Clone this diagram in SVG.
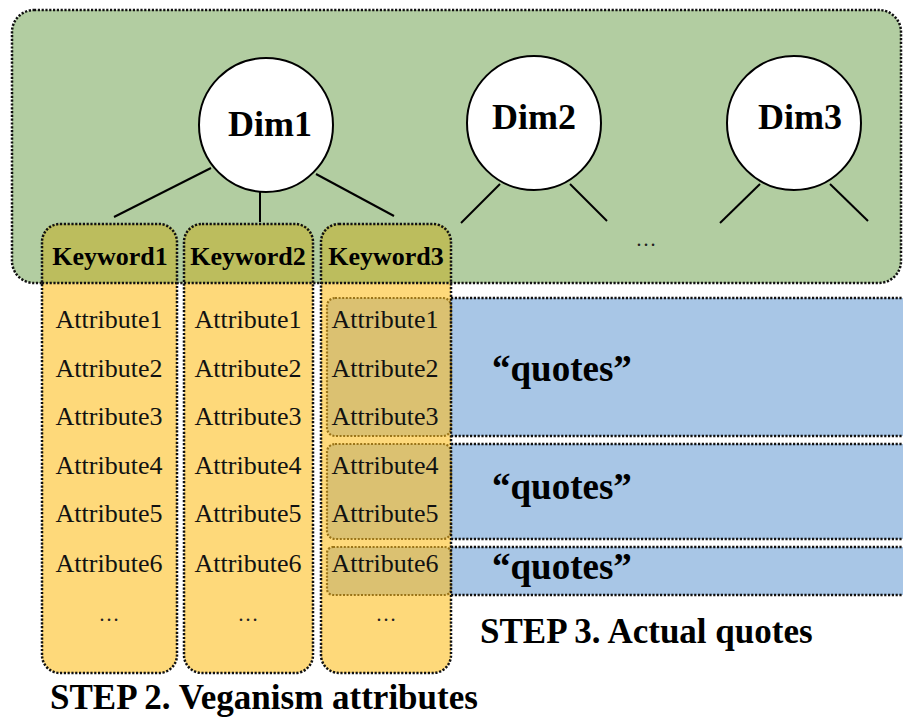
<svg xmlns="http://www.w3.org/2000/svg" width="903" height="726" viewBox="0 0 903 726">
  <style>
    .dot { stroke: #111; stroke-width: 2.5; stroke-dasharray: 2.2 1.6; fill: none; }
    .dotbrown { stroke: #9a7418; stroke-width: 2.2; stroke-dasharray: 2 1.6; fill: none; }
    .dim { font-family: "Liberation Serif", "Times New Roman", serif; font-weight: bold; font-size: 36px; text-anchor: middle; fill: #000; }
    .kw { font-family: "Liberation Serif", "Times New Roman", serif; font-weight: bold; font-size: 26px; text-anchor: middle; fill: #000; }
    .attr { font-family: "Liberation Serif", "Times New Roman", serif; font-size: 26px; text-anchor: middle; fill: #111; }
    .ell { font-family: "Liberation Serif", "Times New Roman", serif; font-size: 21px; text-anchor: middle; fill: #222; }
    .quote { font-family: "Liberation Serif", "Times New Roman", serif; font-weight: bold; font-size: 37px; fill: #000; }
    .step { font-family: "Liberation Serif", "Times New Roman", serif; font-weight: bold; font-size: 35px; fill: #000; }
    .circle { fill: #fff; stroke: #000; stroke-width: 2; }
    .edge { stroke: #000; stroke-width: 2; fill: none; }
    .green { fill: #b2cda1; }
    .yellow { fill: #fed97a; }
    .olive { fill: #bcbd5d; }
    .blue { fill: #a8c6e6; }
    .tan { fill: #dbc171; }
  </style>

  <!-- dimension panel -->
  <g id="dimension-panel">
    <rect x="12" y="10" width="889" height="273" rx="22" class="green"/>
    <rect x="12" y="10" width="889" height="273" rx="22" class="dot"/>
    <text x="646" y="246" class="ell">…</text>
  </g>

  <!-- keyword columns -->
  <g id="keyword1">
    <rect x="42" y="224" width="135" height="449" rx="18" class="yellow"/>
    <path d="M42,283 V242 Q42,224 60,224 H159 Q177,224 177,242 V283 Z" class="olive"/>
    <rect x="42" y="224" width="135" height="449" rx="18" class="dot"/>
    <line x1="42" y1="283" x2="177" y2="283" class="dot"/>
    <text x="110" y="265" class="kw">Keyword1</text>
    <text x="109" y="328" class="attr">Attribute1</text>
    <text x="109" y="377" class="attr">Attribute2</text>
    <text x="109" y="425" class="attr">Attribute3</text>
    <text x="109" y="474" class="attr">Attribute4</text>
    <text x="109" y="522" class="attr">Attribute5</text>
    <text x="109" y="572" class="attr">Attribute6</text>
    <text x="109" y="621" class="ell">…</text>
  </g>

  <g id="keyword2">
    <rect x="184" y="224" width="129" height="449" rx="18" class="yellow"/>
    <path d="M184,283 V242 Q184,224 202,224 H295 Q313,224 313,242 V283 Z" class="olive"/>
    <rect x="184" y="224" width="129" height="449" rx="18" class="dot"/>
    <line x1="184" y1="283" x2="313" y2="283" class="dot"/>
    <text x="248" y="265" class="kw">Keyword2</text>
    <text x="248" y="328" class="attr">Attribute1</text>
    <text x="248" y="377" class="attr">Attribute2</text>
    <text x="248" y="425" class="attr">Attribute3</text>
    <text x="248" y="474" class="attr">Attribute4</text>
    <text x="248" y="522" class="attr">Attribute5</text>
    <text x="248" y="572" class="attr">Attribute6</text>
    <text x="248" y="621" class="ell">…</text>
  </g>

  <!-- quote bands -->
  <g id="quotes">
    <rect x="451" y="298" width="460" height="138" class="blue"/>
    <line x1="451" y1="298" x2="903" y2="298" class="dot"/>
    <line x1="451" y1="436" x2="903" y2="436" class="dot"/>
    <rect x="451" y="444" width="460" height="95" class="blue"/>
    <line x1="451" y1="444" x2="903" y2="444" class="dot"/>
    <line x1="451" y1="539" x2="903" y2="539" class="dot"/>
    <rect x="451" y="547" width="460" height="48" class="blue"/>
    <line x1="451" y1="547" x2="903" y2="547" class="dot"/>
    <line x1="451" y1="595" x2="903" y2="595" class="dot"/>
    <text x="492" y="381" class="quote">“quotes”</text>
    <text x="492" y="499" class="quote">“quotes”</text>
    <text x="492" y="579" class="quote">“quotes”</text>
  </g>

  <g id="keyword3">
    <rect x="321" y="224" width="130" height="449" rx="18" class="yellow"/>
    <path d="M321,283 V242 Q321,224 339,224 H433 Q451,224 451,242 V283 Z" class="olive"/>
    <rect x="327" y="298" width="124" height="138" rx="8" class="tan"/>
    <rect x="327" y="298" width="124" height="138" rx="8" class="dotbrown"/>
    <rect x="327" y="444" width="124" height="95" rx="8" class="tan"/>
    <rect x="327" y="444" width="124" height="95" rx="8" class="dotbrown"/>
    <rect x="327" y="547" width="124" height="48" rx="6" class="tan"/>
    <rect x="327" y="547" width="124" height="48" rx="6" class="dotbrown"/>
    <rect x="321" y="224" width="130" height="449" rx="18" class="dot"/>
    <line x1="321" y1="283" x2="451" y2="283" class="dot"/>
    <text x="386" y="265" class="kw">Keyword3</text>
    <text x="385" y="328" class="attr">Attribute1</text>
    <text x="385" y="377" class="attr">Attribute2</text>
    <text x="385" y="425" class="attr">Attribute3</text>
    <text x="385" y="474" class="attr">Attribute4</text>
    <text x="385" y="522" class="attr">Attribute5</text>
    <text x="385" y="572" class="attr">Attribute6</text>
    <text x="386" y="621" class="ell">…</text>
  </g>

  <!-- tree edges -->
  <g id="connectors">
    <line x1="211" y1="168" x2="114" y2="217" class="edge"/>
    <line x1="260" y1="192" x2="260" y2="222" class="edge"/>
    <line x1="316" y1="174" x2="394" y2="216" class="edge"/>
    <line x1="500" y1="184" x2="461" y2="223" class="edge"/>
    <line x1="570" y1="184" x2="607" y2="221" class="edge"/>
    <line x1="760" y1="184" x2="720" y2="223" class="edge"/>
    <line x1="830" y1="184" x2="868" y2="221" class="edge"/>
  </g>

  <!-- dimensions -->
  <g id="dim1">
    <circle cx="266" cy="125" r="67" class="circle"/>
    <text x="270" y="136" class="dim">Dim1</text>
  </g>
  <g id="dim2">
    <circle cx="534" cy="123" r="67" class="circle"/>
    <text x="534" y="129" class="dim">Dim2</text>
  </g>
  <g id="dim3">
    <circle cx="794" cy="123" r="67" class="circle"/>
    <text x="800" y="129" class="dim">Dim3</text>
  </g>

  <!-- step captions -->
  <g id="captions">
    <text x="480" y="643" class="step">STEP 3. Actual quotes</text>
    <text x="50" y="709" class="step">STEP 2. Veganism attributes</text>
  </g>
</svg>
